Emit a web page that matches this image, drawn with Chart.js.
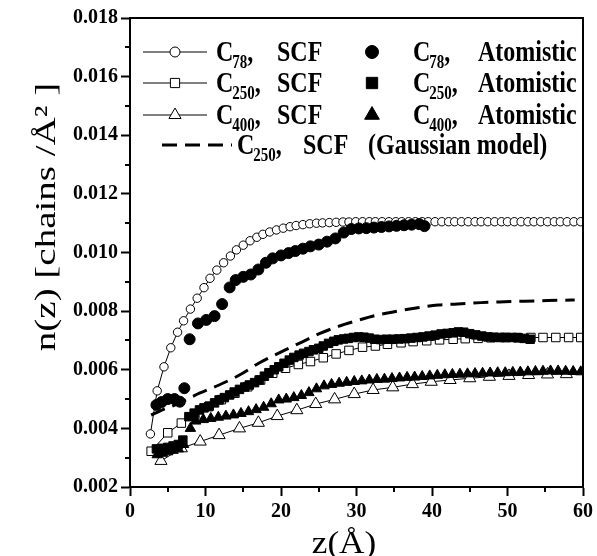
<!DOCTYPE html>
<html>
<head>
<meta charset="utf-8">
<script src="https://cdn.jsdelivr.net/npm/chart.js"></script>
<style>
  html, body { margin: 0; padding: 0; background: #fff; }
  #wrap { width: 597px; height: 556px; }
</style>
</head>
<body>
<div id="wrap"><canvas id="chart" width="597" height="556"></canvas></div>
<script>
// ── Data: z in Å, n(z) in chains/Å² ──
const C78_SCF_Z = [2.7, 3.6, 4.5, 5.4, 6.3, 7.1, 8.0, 8.9, 9.8, 10.6, 11.5, 12.4, 13.3, 14.1, 15.0, 15.9, 16.8, 17.6, 18.5, 19.4,
  20.3, 21.2, 22.0, 22.9, 23.8, 24.7, 25.5, 26.4, 27.3, 28.2, 29.0, 29.9, 30.8, 31.7, 32.5, 33.4, 34.3, 35.2, 36.0, 36.9,
  37.8, 38.7, 39.5, 40.4, 41.3, 42.2, 43.0, 43.9, 44.8, 45.7, 46.5, 47.4, 48.3, 49.2, 50.0, 50.9, 51.8, 52.7, 53.5, 54.4,
  55.3, 56.2, 57.0, 57.9, 58.8, 59.7];
const C78_SCF_N = [0.00381, 0.00528, 0.00610, 0.00675, 0.00728, 0.00767, 0.00807, 0.00844, 0.00880, 0.00912, 0.00940, 0.00965,
  0.00988, 0.01009, 0.01025, 0.01040, 0.01052, 0.01062, 0.01070, 0.01077, 0.01083, 0.01088, 0.01092, 0.01095, 0.01098, 0.01100,
  0.01101, 0.01102, 0.01103, 0.01104, 0.01104, 0.01105, 0.01105, 0.01105, 0.01105, 0.01105, 0.01105, 0.01105, 0.01105, 0.01105,
  0.01105, 0.01105, 0.01105, 0.01105, 0.01105, 0.01105, 0.01105, 0.01105, 0.01105, 0.01105, 0.01105, 0.01105, 0.01105, 0.01105,
  0.01105, 0.01105, 0.01105, 0.01105, 0.01105, 0.01105, 0.01105, 0.01105, 0.01105, 0.01105, 0.01105, 0.01105];

const C78_AT_Z = [3.5, 4.2, 5.0, 5.9, 6.6, 7.2, 7.9, 9.0, 10.1, 11.2, 12.2, 13.2, 14.0, 15.0, 16.0, 17.0, 18.0, 18.9, 20.0, 21.0,
  21.9, 22.9, 23.9, 25.0, 26.1, 27.2, 28.3, 29.3, 30.3, 31.3, 32.3, 33.3, 34.3, 35.3, 36.3, 37.3, 38.3, 39.0];
const C78_AT_N = [0.00480, 0.00490, 0.00500, 0.00500, 0.00491, 0.00537, 0.00704, 0.00758, 0.00770, 0.00783, 0.00824, 0.00881,
  0.00906, 0.00917, 0.00925, 0.00942, 0.00965, 0.00980, 0.00990, 0.00998, 0.01005, 0.01013, 0.01021, 0.01027, 0.01037, 0.01048,
  0.01068, 0.01080, 0.01082, 0.01083, 0.01085, 0.01087, 0.01089, 0.01091, 0.01093, 0.01095, 0.01097, 0.01090];

const C250_SCF_Z = [2.8, 5.0, 6.8, 8.6, 10.4, 12.1, 13.9, 15.6, 17.3, 18.9, 20.6, 22.3, 23.9, 25.6, 27.3, 29.0, 30.8, 32.5, 34.1,
  35.9, 37.5, 39.3, 41.0, 42.8, 44.4, 46.1, 47.8, 49.6, 51.3, 53.1, 54.7, 56.4, 58.1, 59.7];
const C250_SCF_N = [0.00322, 0.00385, 0.00418, 0.00448, 0.00474, 0.00498, 0.00520, 0.00542, 0.00565, 0.00588, 0.00605, 0.00618,
  0.00628, 0.00641, 0.00654, 0.00666, 0.00677, 0.00681, 0.00687, 0.00692, 0.00696, 0.00699, 0.00702, 0.00704, 0.00706, 0.00707,
  0.00709, 0.00710, 0.00710, 0.00710, 0.00710, 0.00710, 0.00710, 0.00710];

const C250_AT_Z = [3.5, 4.2, 5.0, 5.7, 6.4, 7.0, 7.8, 8.5, 9.2, 9.8, 10.5, 11.2, 11.8, 12.5, 13.2, 13.8, 14.5, 15.2, 15.8, 16.5,
  17.1, 17.8, 18.4, 19.1, 19.7, 20.4, 21.1, 21.7, 22.4, 23.0, 23.7, 24.3, 25.0, 25.6, 26.3, 27.0, 27.6, 28.3, 28.9, 29.6,
  30.3, 31.0, 31.7, 32.4, 33.2, 34.0, 34.8, 35.6, 36.4, 37.2, 38.0, 38.8, 39.6, 40.4, 41.2, 42.0, 42.8, 43.5, 44.2, 45.0,
  45.8, 46.6, 47.4, 48.2, 49.0, 49.8, 50.6, 51.4, 52.2, 53.0];
const C250_AT_N = [0.00330, 0.00332, 0.00335, 0.00340, 0.00345, 0.00360, 0.00440, 0.00452, 0.00463, 0.00470,
  0.00476, 0.00487, 0.00497, 0.00505, 0.00514, 0.00524, 0.00533, 0.00541, 0.00548, 0.00556,
  0.00565, 0.00578, 0.00590, 0.00600, 0.00610, 0.00622, 0.00633, 0.00642, 0.00650, 0.00656,
  0.00662, 0.00668, 0.00673, 0.00681, 0.00690, 0.00697, 0.00702, 0.00705, 0.00707, 0.00710,
  0.00712, 0.00711, 0.00708, 0.00704, 0.00703, 0.00704, 0.00704, 0.00705, 0.00706, 0.00708,
  0.00710, 0.00712, 0.00715, 0.00718, 0.00722, 0.00724, 0.00726, 0.00729, 0.00728, 0.00723,
  0.00719, 0.00715, 0.00712, 0.00711, 0.00710, 0.00710, 0.00710, 0.00709, 0.00707, 0.00704];

const C400_SCF_Z = [4.1, 6.8, 9.3, 11.8, 14.5, 17.0, 19.5, 22.1, 24.6, 27.1, 29.7, 32.2, 34.8, 37.4, 39.9, 42.4, 45.0, 47.6,
  50.2, 52.8, 55.3, 57.8];
const C400_SCF_N = [0.00289, 0.00332, 0.00355, 0.00377, 0.00400, 0.00419, 0.00442, 0.00462, 0.00483, 0.00499, 0.00517, 0.00531,
  0.00540, 0.00551, 0.00559, 0.00565, 0.00571, 0.00576, 0.00579, 0.00582, 0.00584, 0.00585];

const C400_AT_Z = [3.6, 4.3, 5.0, 5.7, 6.4, 7.1, 8.0, 8.7, 9.7, 10.7, 11.7, 12.7, 13.7, 14.7, 15.7, 16.7, 17.7, 18.7,
  19.7, 20.7, 21.7, 22.7, 23.7, 24.7, 25.7, 26.7, 27.7, 28.7, 29.7, 30.7, 31.7, 32.7, 33.7, 34.7, 35.7, 36.7, 37.7, 38.7,
  39.7, 40.7, 41.7, 42.7, 43.7, 44.7, 45.7, 46.7, 47.7, 48.7, 49.7, 50.7, 51.7, 52.7, 53.7, 54.7, 55.7, 56.7, 57.7, 58.7, 59.7];
const C400_AT_N = [0.00310, 0.00315, 0.00320, 0.00325, 0.00330, 0.00345, 0.00400, 0.00425,
  0.00430, 0.00434, 0.00438, 0.00442, 0.00446, 0.00451, 0.00457, 0.00464, 0.00472, 0.00484,
  0.00497, 0.00500, 0.00505, 0.00512, 0.00522, 0.00535, 0.00545, 0.00550, 0.00554, 0.00557,
  0.00560, 0.00562, 0.00565, 0.00567, 0.00568, 0.00570, 0.00572, 0.00574, 0.00575, 0.00577,
  0.00579, 0.00581, 0.00583, 0.00584, 0.00585, 0.00586, 0.00587, 0.00588, 0.00589, 0.00590,
  0.00590, 0.00591, 0.00592, 0.00593, 0.00594, 0.00595, 0.00596, 0.00596, 0.00595, 0.00594, 0.00593];

const GAUSS_Z = [2.8, 4.0, 5.5, 6.6, 9.2, 11.8, 14.5, 17.1, 19.7, 22.4, 25.0, 27.6, 30.0, 32.5, 35.0, 37.7, 40.8, 43.4, 46.5,
  49.6, 52.2, 55.3, 58.9];
const GAUSS_N = [0.00445, 0.00460, 0.00475, 0.00487, 0.00520, 0.00548, 0.00582, 0.00623, 0.00657, 0.00690, 0.00722, 0.00748,
  0.00767, 0.00785, 0.00798, 0.00810, 0.00821, 0.00824, 0.00829, 0.00832, 0.00834, 0.00836, 0.00838];

// axis ticks
const X_MINOR = [5, 15, 25, 35, 45, 55];
const Y_MINOR = [0.003, 0.005, 0.007, 0.009, 0.011, 0.013, 0.015, 0.017];

// legend text
const CHAINS = ['78', '250', '400'];
const X_TITLE = 'z(Å)';
const Y_TITLE = 'n(z) [chains /Å² ]';

const SERIF = '"Liberation Serif", "Times New Roman", serif';

function pts(zs, ns) {
  return zs.map((z, i) => ({ x: z, y: ns[i] }));
}

function filled(data, style, r) {
  return { data, pointStyle: style, pointRadius: r, backgroundColor: '#000', borderColor: '#000',
    pointBorderWidth: 1, showLine: false };
}

function open(data, style, r) {
  return { data, pointStyle: style, pointRadius: r, pointBackgroundColor: '#fff', pointBorderColor: '#000',
    pointBorderWidth: 1, borderColor: '#000', borderWidth: 1, showLine: true, tension: 0 };
}

function marker(ctx, style, r, x, y, fill) {
  ctx.fillStyle = fill ? '#000' : '#fff';
  ctx.strokeStyle = '#000';
  ctx.lineWidth = 1;
  Chart.helpers.drawPoint(ctx, { pointStyle: style, radius: r, rotation: 0, borderWidth: 1 }, x, y);
}

// text drawn a little taller than wide, like the original figure
function tallText(ctx, str, x, base, font) {
  ctx.save();
  ctx.translate(x, base);
  ctx.scale(1, 1.2);
  ctx.font = font;
  ctx.fillText(str, 0, 0);
  ctx.restore();
  ctx.font = font;
  return ctx.measureText(str).width;
}

function chainLabel(ctx, x, base, sub, rest, restX) {
  ctx.fillStyle = '#000';
  ctx.textAlign = 'left';
  ctx.textBaseline = 'alphabetic';
  const big = `bold 24px ${SERIF}`;
  let cx = x + tallText(ctx, 'C', x, base, big) - 1;
  cx += tallText(ctx, sub, cx, base + 7, `bold 15px ${SERIF}`);
  tallText(ctx, ',', cx, base, big);
  tallText(ctx, rest, restX, base, big);
}

const decor = {
  id: 'decor',
  afterDraw(chart) {
    const { ctx, chartArea: a, scales: { x, y } } = chart;
    ctx.save();

    // ── frame + minor ticks ──
    ctx.strokeStyle = '#000';
    ctx.lineWidth = 2;
    ctx.strokeRect(a.left, a.top, a.right - a.left, a.bottom - a.top);
    ctx.beginPath();
    X_MINOR.forEach(v => {
      const px = Math.round(x.getPixelForValue(v));
      ctx.moveTo(px, a.bottom);
      ctx.lineTo(px, a.bottom + 5);
    });
    Y_MINOR.forEach(v => {
      const py = Math.round(y.getPixelForValue(v));
      ctx.moveTo(a.left, py);
      ctx.lineTo(a.left - 5, py);
    });
    ctx.stroke();

    // ── legend ──
    const rows = [52, 83, 115];
    const scfStyle = [['circle', 5], ['rect', 6.5], ['triangle', 7]];
    const atStyle = [['circle', 6.5], ['rect', 8], ['triangle', 8.5]];
    rows.forEach((ry, i) => {
      ctx.strokeStyle = '#000';
      ctx.lineWidth = 1;
      ctx.beginPath();
      ctx.moveTo(143, ry);
      ctx.lineTo(207, ry);
      ctx.stroke();
      marker(ctx, scfStyle[i][0], scfStyle[i][1], 175, ry, false);
      chainLabel(ctx, 216, ry + 9, CHAINS[i], 'SCF', 277);
      marker(ctx, atStyle[i][0], atStyle[i][1], 372, ry, true);
      chainLabel(ctx, 413, ry + 9, CHAINS[i], 'Atomistic', 478);
    });
    ctx.strokeStyle = '#000';
    ctx.lineWidth = 3;
    ctx.setLineDash([15, 8]);
    ctx.beginPath();
    ctx.moveTo(162, 145);
    ctx.lineTo(232, 145);
    ctx.stroke();
    ctx.setLineDash([]);
    chainLabel(ctx, 237, 154, CHAINS[1], 'SCF', 303);
    tallText(ctx, '(Gaussian model)', 368, 154, `bold 24px ${SERIF}`);

    // ── axis titles ──
    ctx.fillStyle = '#000';
    ctx.textAlign = 'center';
    ctx.textBaseline = 'alphabetic';
    ctx.save();
    ctx.translate(344, 553);
    ctx.scale(1.1, 1);
    ctx.font = `32px ${SERIF}`;
    ctx.fillText(X_TITLE, 0, 0);
    ctx.restore();

    ctx.save();
    ctx.translate(55, 217);
    ctx.rotate(-Math.PI / 2);
    ctx.scale(1.3, 1);
    ctx.font = `30px ${SERIF}`;
    ctx.fillText(Y_TITLE, 0, 0);
    ctx.restore();

    ctx.restore();
  },
};

const tickFont = { family: SERIF, weight: 'bold', size: 20 };

new Chart(document.getElementById('chart'), {
  type: 'scatter',
  data: {
    datasets: [
      { label: 'C78, Atomistic', ...filled(pts(C78_AT_Z, C78_AT_N), 'circle', 5.5) },
      { label: 'C250, Atomistic', ...filled(pts(C250_AT_Z, C250_AT_N), 'rect', 6) },
      { label: 'C400, Atomistic', ...filled(pts(C400_AT_Z, C400_AT_N), 'triangle', 6) },
      {
        label: 'C250, SCF (Gaussian model)', data: pts(GAUSS_Z, GAUSS_N), showLine: true, pointRadius: 0,
        borderColor: '#000', borderWidth: 3, borderDash: [15, 8], cubicInterpolationMode: 'monotone',
      },
      { label: 'C78, SCF', ...open(pts(C78_SCF_Z, C78_SCF_N), 'circle', 4.2) },
      { label: 'C250, SCF', ...open(pts(C250_SCF_Z, C250_SCF_N), 'rect', 6) },
      { label: 'C400, SCF', ...open(pts(C400_SCF_Z, C400_SCF_N), 'triangle', 7) },
    ],
  },
  options: {
    responsive: false,
    animation: false,
    layout: { padding: { left: 0, top: 18, right: 11, bottom: 0 } },
    plugins: { legend: { display: false }, tooltip: { enabled: false } },
    scales: {
      x: {
        type: 'linear', min: 0, max: 60,
        ticks: { stepSize: 10, color: '#000', font: tickFont, padding: 4, maxRotation: 0 },
        grid: { drawOnChartArea: false, drawTicks: true, tickLength: 9, tickWidth: 2, tickColor: '#000' },
        border: { display: true, color: '#000', width: 2 },
        afterFit: (s) => { s.height = 69; },
      },
      y: {
        type: 'linear', min: 0.002, max: 0.018,
        ticks: { stepSize: 0.002, color: '#000', font: tickFont, padding: 3, callback: (v) => v.toFixed(3) },
        grid: { drawOnChartArea: false, drawTicks: true, tickLength: 9, tickWidth: 2, tickColor: '#000' },
        border: { display: true, color: '#000', width: 2 },
        afterFit: (s) => { s.width = 130; },
      },
    },
  },
  plugins: [decor],
});
</script>
</body>
</html>
